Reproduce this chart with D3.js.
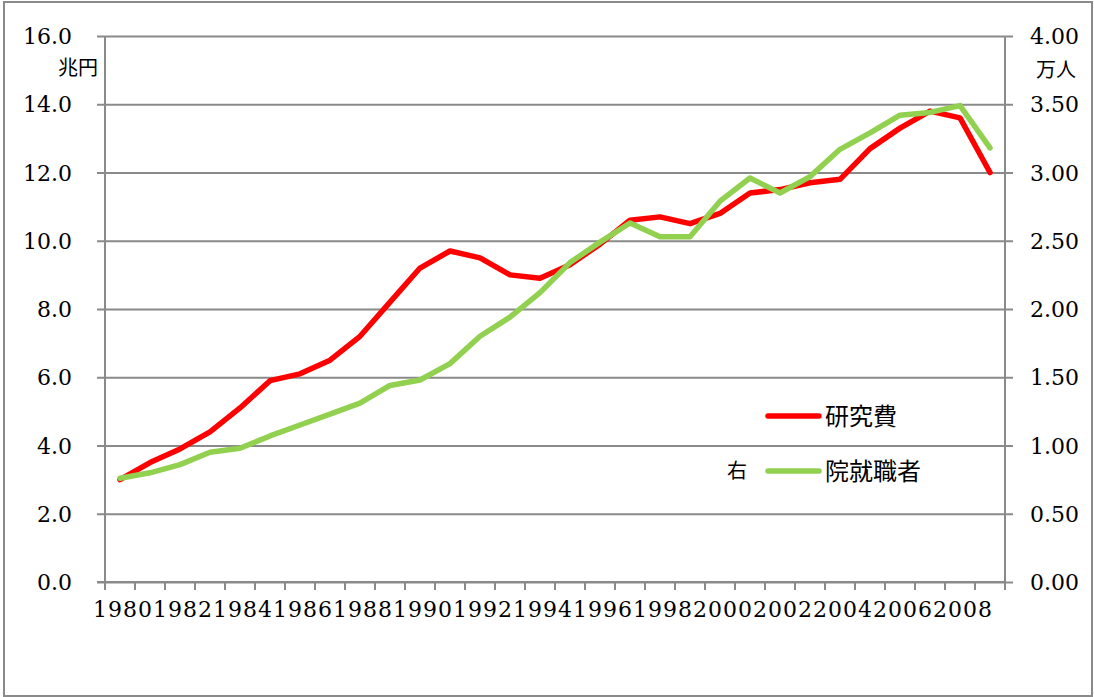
<!DOCTYPE html>
<html>
<head>
<meta charset="utf-8">
<script src="https://cdn.jsdelivr.net/npm/d3@7"></script>
<style>
  html, body { margin: 0; padding: 0; background: #ffffff; }
  svg { display: block; }
</style>
</head>
<body>
<div id="chart"></div>
<script>
// Years on the category axis
const years = [1980,1981,1982,1983,1984,1985,1986,1987,1988,1989,
               1990,1991,1992,1993,1994,1995,1996,1997,1998,1999,
               2000,2001,2002,2003,2004,2005,2006,2007,2008,2009];

// 研究費 (兆円, left axis)
const researchSpending = [3.0,3.5,3.9,4.4,5.1,5.9,6.1,6.5,7.2,8.2,
                          9.2,9.7,9.5,9.0,8.9,9.3,9.9,10.6,10.7,10.5,
                          10.8,11.4,11.5,11.7,11.8,12.7,13.3,13.8,13.6,12.0];

// 院就職者 (万人, right axis)
const graduateHires = [0.76,0.80,0.86,0.95,0.98,1.07,1.15,1.23,1.31,1.44,
                       1.48,1.60,1.80,1.94,2.12,2.34,2.49,2.63,2.53,2.53,
                       2.79,2.96,2.85,2.97,3.17,3.29,3.42,3.44,3.49,3.18];

// Axis tick labels
const leftTicks  = [0,2,4,6,8,10,12,14,16];
const rightTicks = [0,0.5,1,1.5,2,2.5,3,3.5,4];
const labelYears = years.filter(y => y % 2 === 0);

const W = 1094, H = 697;
const plot = { left: 105, right: 1005, top: 36, bottom: 582 };
const gridColor = "#8a8a8a";
const numFont = "'DejaVu Serif', 'Liberation Serif', serif";
const cjkFont = "'Noto Sans CJK JP', 'Noto Sans', sans-serif";

const svg = d3.select("#chart").append("svg")
  .attr("width", W).attr("height", H);

svg.append("rect").attr("width", W).attr("height", H).attr("fill", "#fff");

// outer chart border
svg.append("rect")
  .attr("x", 4).attr("y", 2).attr("width", 1088).attr("height", 694)
  .attr("fill", "none").attr("stroke", gridColor).attr("stroke-width", 2);

const x = d3.scaleBand().domain(years).range([plot.left, plot.right]);
const yL = d3.scaleLinear().domain([0, 16]).range([plot.bottom, plot.top]);
const yR = d3.scaleLinear().domain([0, 4]).range([plot.bottom, plot.top]);
const cx = d => x(d) + x.bandwidth() / 2;

// left axis with horizontal gridlines spanning the plot
const leftAxis = svg.append("g")
  .attr("transform", `translate(${plot.left},0)`)
  .call(d3.axisLeft(yL).tickValues(leftTicks)
    .tickSize(-(plot.right - plot.left)).tickSizeOuter(0)
    .tickFormat(d3.format(".1f")));
leftAxis.select(".domain").remove();
leftAxis.selectAll(".tick line")
  .attr("x1", -8).attr("stroke", gridColor).attr("stroke-width", 2);
leftAxis.selectAll(".tick text")
  .attr("x", -33).attr("dy", "0.35em")
  .attr("font-family", numFont).attr("font-size", 22).attr("fill", "#000");
leftAxis.append("line")
  .attr("y1", plot.top).attr("y2", plot.bottom)
  .attr("stroke", gridColor).attr("stroke-width", 2);

// right axis
const rightAxis = svg.append("g")
  .attr("transform", `translate(${plot.right},0)`)
  .call(d3.axisRight(yR).tickValues(rightTicks)
    .tickSize(8).tickSizeOuter(0).tickFormat(d3.format(".2f")));
rightAxis.select(".domain").remove();
rightAxis.selectAll(".tick line").attr("stroke", gridColor).attr("stroke-width", 2);
rightAxis.selectAll(".tick text")
  .attr("x", 25).attr("dy", "0.35em")
  .attr("font-family", numFont).attr("font-size", 22).attr("fill", "#000");
rightAxis.append("line")
  .attr("y1", plot.top).attr("y2", plot.bottom)
  .attr("stroke", gridColor).attr("stroke-width", 2);

// category axis: ticks on band boundaries, labels on every other year
const bottom = svg.append("g").attr("transform", `translate(0,${plot.bottom})`);
bottom.append("line")
  .attr("x1", plot.left - 8).attr("x2", plot.right)
  .attr("stroke", gridColor).attr("stroke-width", 2);
const boundaries = years.map(y => x(y)).concat([plot.right]);
bottom.selectAll("line.tk").data(boundaries).enter().append("line")
  .attr("class", "tk")
  .attr("x1", d => d).attr("x2", d => d).attr("y1", 0).attr("y2", 8)
  .attr("stroke", gridColor).attr("stroke-width", 2);
bottom.selectAll("text.yr").data(labelYears).enter().append("text")
  .attr("class", "yr")
  .attr("x", d => cx(d) + 3).attr("y", 35)
  .attr("text-anchor", "middle")
  .attr("font-family", numFont).attr("font-size", 22)
  .attr("letter-spacing", 1).attr("fill", "#000")
  .text(d => d);

// unit captions
svg.append("text").attr("x", 98).attr("y", 75).attr("text-anchor", "end")
  .attr("font-family", cjkFont).attr("font-size", 20).attr("fill", "#000")
  .text("兆円");
svg.append("text").attr("x", 1036).attr("y", 77)
  .attr("font-family", cjkFont).attr("font-size", 20).attr("fill", "#000")
  .text("万人");

// series lines
const redLine = d3.line().x((d, i) => cx(years[i])).y(d => yL(d));
const greenLine = d3.line().x((d, i) => cx(years[i])).y(d => yR(d));

svg.append("path").datum(researchSpending)
  .attr("d", redLine).attr("fill", "none")
  .attr("stroke", "#ff0000").attr("stroke-width", 5.5)
  .attr("stroke-linejoin", "round").attr("stroke-linecap", "round");
svg.append("path").datum(graduateHires)
  .attr("d", greenLine).attr("fill", "none")
  .attr("stroke", "#92d050").attr("stroke-width", 5.5)
  .attr("stroke-linejoin", "round").attr("stroke-linecap", "round");

// legend
const legend = [
  { name: "研究費", color: "#ff0000", y: 416, prefix: "" },
  { name: "院就職者", color: "#92d050", y: 471, prefix: "右" }
];
const lg = svg.append("g");
legend.forEach(item => {
  lg.append("line")
    .attr("x1", 768).attr("x2", 819).attr("y1", item.y).attr("y2", item.y)
    .attr("stroke", item.color).attr("stroke-width", 5.5)
    .attr("stroke-linecap", "round");
  lg.append("text").attr("x", 825).attr("y", item.y).attr("dy", "0.36em")
    .attr("font-family", cjkFont).attr("font-size", 24).attr("fill", "#000")
    .text(item.name);
  if (item.prefix) {
    lg.append("text").attr("x", 727).attr("y", item.y).attr("dy", "0.36em")
      .attr("font-family", cjkFont).attr("font-size", 20).attr("fill", "#000")
      .text(item.prefix);
  }
});
</script>
</body>
</html>
